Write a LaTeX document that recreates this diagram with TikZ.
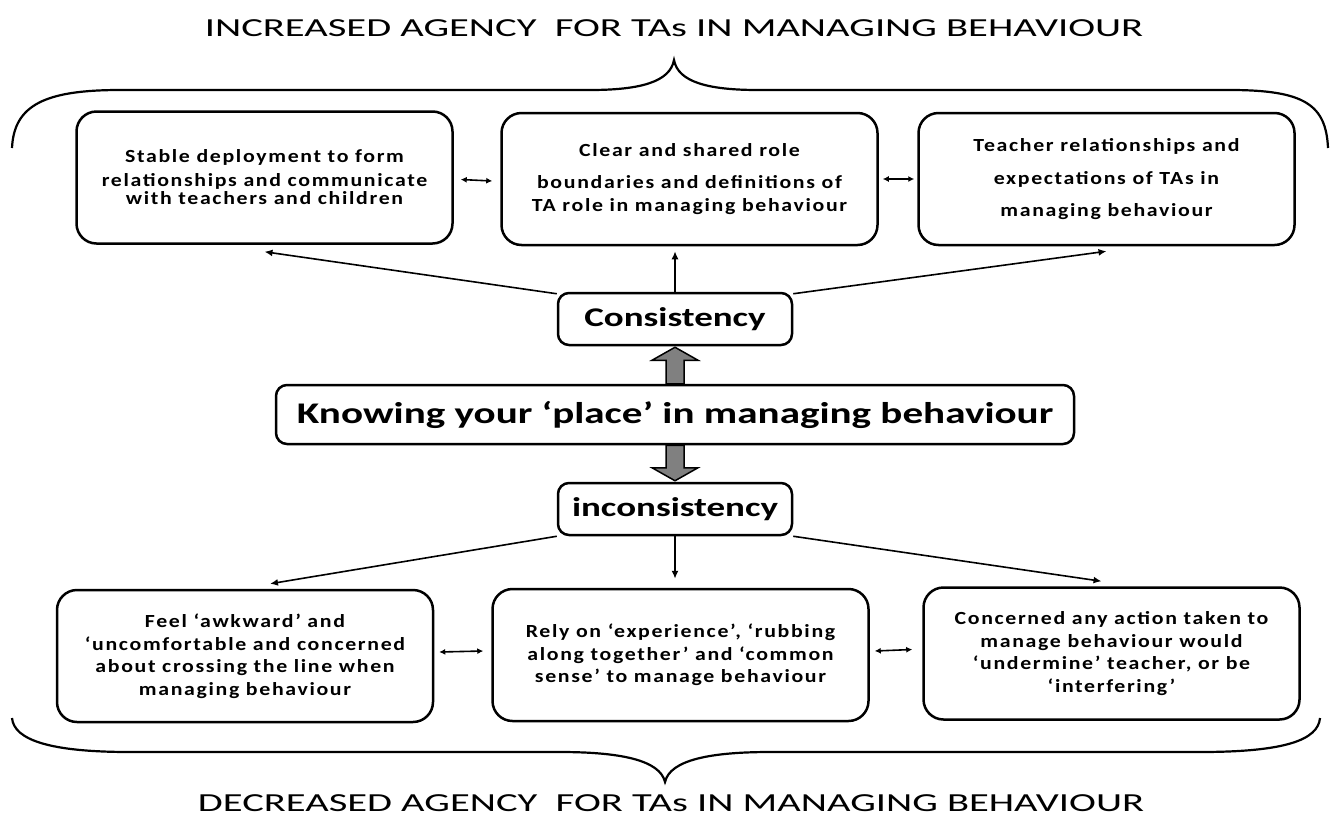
\documentclass[tikz,border=0pt]{standalone}
\usepackage{fontspec}
\setmainfont{Carlito}
\newfontfamily\titlefont[FakeStretch=1.56]{Carlito}
\newfontfamily\boxfont[LetterSpace=9,FakeStretch=1.18]{Carlito}
\newfontfamily\keyfont[FakeStretch=1.37]{Carlito}
\usetikzlibrary{arrows.meta,calc}
\begin{document}
\begin{tikzpicture}[x=1pt,y=-1pt,
   theme/.style={draw,line width=2.5pt,rounded corners=20pt,minimum width=376pt,
      minimum height=132pt,inner sep=0pt,align=center,
      font=\boxfont\bfseries\fontsize{18.5}{22.5}\selectfont},
   key/.style={draw,line width=2.5pt,rounded corners=11pt,minimum width=234pt,
      minimum height=52pt,inner sep=0pt,font=\keyfont\bfseries\fontsize{27}{30}\selectfont},
   link/.style={line width=1.6pt,-{Latex[length=8pt,width=7pt]}},
   pair/.style={line width=1.6pt,{Latex[length=6pt,width=6pt]}-{Latex[length=6pt,width=6pt]}},
   push/.style={draw,line width=1.5pt,fill=gray},
   brace/.style={line width=2.2pt},
   heading/.style={font=\titlefont\fontsize{26}{30}\selectfont}]
   \useasboundingbox (0,0) rectangle (1332,828);
   \node[heading] (more) at (674,28) {INCREASED AGENCY\ \ FOR TAs IN MANAGING BEHAVIOUR};
   \node[heading] (less) at (671,803) {DECREASED AGENCY\ \ FOR TAs IN MANAGING BEHAVIOUR};
   % braces
   \draw[brace] (12,148) .. controls (14,105) and (45,90) .. (120,90) -- (590,90)
      .. controls (640,90) and (670,82) .. (674,60)
      .. controls (678,82) and (708,90) .. (758,90) -- (1230,90)
      .. controls (1305,90) and (1326,105) .. (1328,148);
   \draw[brace] (12,718) .. controls (14,740) and (50,752) .. (130,752) -- (560,752)
      .. controls (620,752) and (660,760) .. (665,782)
      .. controls (670,760) and (710,752) .. (770,752) -- (1200,752)
      .. controls (1285,752) and (1318,740) .. (1320,718);
   % top row
   \node[theme] (stable) at (264.5,177.5) {Stable deployment to form\\[1pt]relationships and communicate\\[-4pt]with teachers and children};
   \node[theme] (clear) at (689.5,179) {Clear and shared role\\[10pt]boundaries and definitions of\\TA role in managing behaviour};
   \node[theme] (expect) at (1106.5,179) {Teacher relationships and\\[11pt]expectations of TAs in\\[9pt]managing behaviour};
   % middle
   \node[key] (cons) at (675,319) {Consistency};
   \node[key,minimum width=798pt,minimum height=59pt,font=\keyfont\bfseries\fontsize{30}{34}\selectfont] (place) at (675,414.5) {Knowing your ‘place’ in managing behaviour};
   \node[key] (incons) at (675,509) {inconsistency};
   % bottom row
   \node[theme] (awkward) at (245,656) {Feel ‘awkward’ and\\‘uncomfortable and concerned\\about crossing the line when\\managing behaviour};
   \node[theme] (rely) at (680.5,655) {Rely on ‘experience’, ‘rubbing\\along together’ and ‘common\\sense’ to manage behaviour};
   \node[theme] (undermine) at (1111.5,653.5) {Concerned any action taken to\\manage behaviour would\\‘undermine’ teacher, or be\\‘interfering’};
   \draw[pair] ([xshift=7pt,yshift=-2pt]stable.east) -- ([xshift=-8pt,yshift=-2pt]clear.west);
   \draw[pair] ([xshift=4pt]clear.east) -- ([xshift=-3pt]expect.west);
   \draw[pair] ([xshift=5pt,yshift=4pt]awkward.east) -- ([xshift=-8pt,yshift=4pt]rely.west);
   \draw[pair] ([xshift=5pt,yshift=4pt]rely.east) -- ([xshift=-10pt,yshift=4pt]undermine.west);
   \draw[link] ([yshift=-2pt]cons.north west) -- ([yshift=-7pt]stable.south);
   \draw[link] (cons.north) -- ([yshift=-5pt]clear.south -| cons.north);
   \draw[link] ([yshift=-2pt]cons.north east) -- ([yshift=-5pt]expect.south);
   \draw[link] (incons.south west) -- ([xshift=25pt,yshift=5pt]awkward.north);
   \draw[link] (incons.south) -- ([yshift=9pt]rely.north -| incons.south);
   \draw[link] (incons.south east) -- ([xshift=-10pt,yshift=5pt]undermine.north);
   \draw[push] ($(place.north)+(-9,0)$) -- ($(cons.south)+(-9,14)$) -- ($(cons.south)+(-23,14)$)
      -- ($(cons.south)+(0,1)$) -- ($(cons.south)+(23,14)$) -- ($(cons.south)+(9,14)$)
      -- ($(place.north)+(9,0)$) -- cycle;
   \draw[push] ($(place.south)+(-9,0)$) -- ($(incons.north)+(-9,-14)$) -- ($(incons.north)+(-23,-14)$)
      -- ($(incons.north)+(0,-1)$) -- ($(incons.north)+(23,-14)$) -- ($(incons.north)+(9,-14)$)
      -- ($(place.south)+(9,0)$) -- cycle;
\end{tikzpicture}
\end{document}
